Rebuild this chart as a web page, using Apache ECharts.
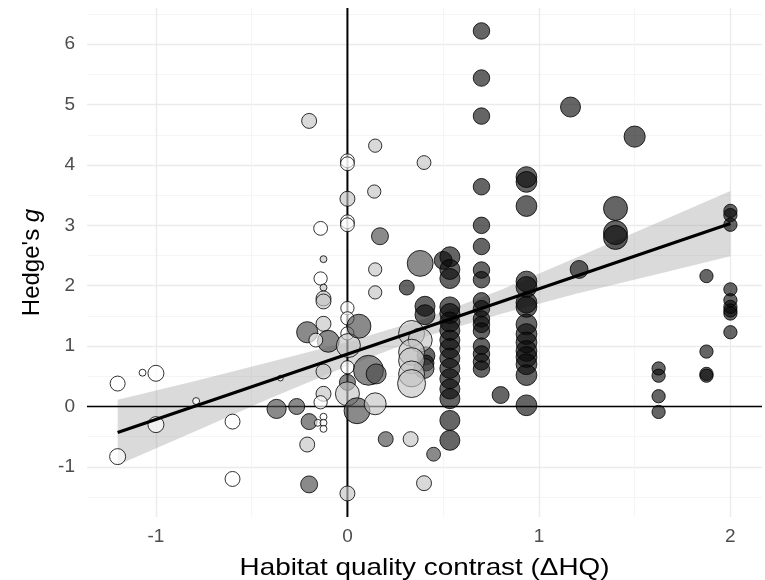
<!DOCTYPE html>
<html>
<head>
<meta charset="utf-8">
<script src="https://cdn.jsdelivr.net/npm/echarts@6/dist/echarts.min.js"></script>
<style>
  html, body { margin: 0; padding: 0; background: #ffffff; }
  #chart { width: 765px; height: 580px; }
</style>
</head>
<body>
<div id="chart"></div>
<script>
// Effect sizes (Hedge's g) against habitat quality contrast (ΔHQ).
// Parallel arrays: one entry per effect size.
const hqContrast = [
  -1.2, -1.2, -1.07, -1.0, -1.0, -0.79, -0.6, -0.6, -0.35, -0.37,
  -0.265, -0.2, -0.21, -0.2, -0.2, -0.21,
  -0.14, -0.125, -0.14, -0.125, -0.125, -0.125, -0.125, -0.10, -0.165, -0.125, -0.125, -0.14, -0.125, -0.155, -0.125, -0.125,
  0, 0, 0, 0, 0, 0, 0, 0, 0.005, 0, 0, 0, 0,
  0.06, 0.05, 0.11, 0.15, 0.145, 0.145, 0.14, 0.17, 0.145, 0.145, 0.2,
  0.31, 0.405, 0.405, 0.41, 0.41, 0.40, 0.33, 0.40, 0.38, 0.335, 0.38, 0.335, 0.335, 0.335, 0.335, 0.45, 0.40,
  0.5, 0.535, 0.535, 0.535, 0.535, 0.535, 0.535, 0.535, 0.535, 0.535, 0.535, 0.535, 0.535, 0.535, 0.535, 0.535, 0.535,
  0.70, 0.70, 0.70, 0.70, 0.70, 0.70, 0.70, 0.70, 0.70, 0.70, 0.70, 0.70, 0.70, 0.70, 0.70, 0.70, 0.70,
  0.80,
  0.935, 0.935, 0.935, 0.935, 0.935, 0.935, 0.935, 0.935, 0.935, 0.935, 0.935, 0.935, 0.935, 0.935, 0.935,
  1.165, 1.21, 1.40, 1.40, 1.40, 1.50,
  1.625, 1.625, 1.625, 1.625,
  1.875, 1.875, 1.875, 1.875,
  2.0, 2.0, 2.0, 2.0, 2.0, 2.0, 2.0, 2.0, 2.0
];
const hedgesG = [
  0.38, -0.83, 0.56, 0.55, -0.30, 0.09, -0.25, -1.20, 0.47, -0.04,
  0.00, -0.25, -0.63, -1.29, 4.73, 1.23,
  2.95, 2.44, 2.12, 1.97, 1.79, 1.74, 1.37, 1.08, 1.10, 0.58, 0.21, 0.07, -0.17, -0.27, -0.27, -0.37,
  4.07, 4.02, 3.44, 3.06, 3.01, 1.63, 1.46, 1.21, 1.01, 0.65, 0.40, 0.21, -1.44,
  1.33, -0.07, 0.60, 0.54, 0.045, 4.32, 3.56, 2.82, 2.27, 1.89, -0.54,
  1.97, 1.66, 1.52, 0.84, 0.72, 0.63, -0.54, 4.04, 2.37, 1.21, 1.10, 0.90, 0.76, 0.54, 0.38, -0.79, -1.27,
  2.42, 2.48, 2.27, 2.12, 1.65, 1.54, 1.40, 1.26, 1.10, 0.96, 0.80, 0.63, 0.46, 0.29, 0.13, -0.23, -0.56,
  6.22, 5.44, 4.81, 3.64, 3.00, 2.65, 2.26, 2.10, 1.75, 1.62, 1.45, 1.36, 1.25, 1.00, 0.87, 0.74, 0.62,
  0.19,
  3.80, 3.72, 3.32, 2.07, 1.98, 1.72, 1.65, 1.36, 1.20, 1.06, 0.92, 0.82, 0.70, 0.52, 0.02,
  4.96, 2.27, 3.28, 2.88, 2.80, 4.47,
  0.63, 0.51, 0.17, -0.09,
  2.16, 0.91, 0.54, 0.51,
  3.24, 3.17, 3.01, 1.94, 1.76, 1.65, 1.59, 1.54, 1.23
];
// Study weight (drives bubble area)
const studyWeight = [
  14, 16, 3, 16, 16, 3, 14, 14, 2, 23,
  16, 16, 14, 18, 14, 28,
  12, 3, 11, 3, 14, 14, 14, 30, 12, 14, 14, 11, 3, 3, 3, 3,
  12, 12, 14, 12, 12, 11, 11, 11, 36, 11, 16, 36, 14,
  36, 42, 56, 25, 30, 11, 11, 18, 11, 11, 14,
  14, 25, 25, 20, 16, 25, 14, 12, 42, 42, 36, 42, 42, 42, 49, 12, 14,
  20, 25, 25, 25, 25, 25, 25, 25, 25, 25, 25, 25, 25, 25, 25, 25, 25,
  17, 17, 17, 17, 17, 17, 17, 17, 17, 17, 17, 17, 17, 17, 17, 17, 17,
  18,
  27, 27, 27, 27, 27, 27, 27, 27, 27, 27, 27, 27, 27, 27, 27,
  25, 20, 36, 36, 36, 28,
  11, 11, 11, 11,
  11, 11, 11, 11,
  11, 11, 11, 11, 11, 11, 11, 11, 11
];
// Quality class of the focal habitat (0 = lowest ... 3 = highest)
const habitatClass = [
  0, 0, 0, 0, 0, 0, 0, 0, 0, 2,
  2, 2, 1, 2, 1, 2,
  0, 1, 0, 1, 1, 1, 1, 2, 0, 1, 1, 0, 0, 0, 0, 0,
  0, 0, 1, 0, 0, 0, 0, 0, 1, 0, 2, 1, 1,
  2, 2, 2, 2, 1, 1, 1, 2, 1, 1, 2,
  3, 3, 3, 3, 3, 2, 1, 1, 2, 1, 1, 1, 1, 1, 1, 2, 1,
  3, 3, 3, 3, 3, 3, 3, 3, 3, 3, 3, 3, 3, 3, 3, 3, 3,
  3, 3, 3, 3, 3, 3, 3, 3, 3, 3, 3, 3, 3, 3, 3, 3, 3,
  3,
  3, 3, 3, 3, 3, 3, 3, 3, 3, 3, 3, 3, 3, 3, 3,
  3, 3, 3, 3, 3, 3,
  3, 3, 3, 3,
  3, 3, 3, 3,
  3, 3, 3, 3, 3, 3, 3, 3, 3
];

// Linear fit with 95% confidence band
const fitX = [-1.2, 2.0];
const fitY = [-0.43, 3.03];
const bandX = [-1.2, -0.8, -0.4, 0, 0.4, 0.8, 1.2, 1.6, 2.0];
const bandLower = [-0.97, -0.42, 0.14, 0.67, 1.15, 1.53, 1.87, 2.18, 2.49];
const bandUpper = [0.11, 0.42, 0.74, 1.07, 1.45, 1.93, 2.47, 3.02, 3.57];

// Axis ticks
const xMajorTicks = [-1, 0, 1, 2];
const xMinorTicks = [-0.5, 0.5, 1.5];
const yMajorTicks = [-1, 0, 1, 2, 3, 4, 5, 6];
const yMinorTicks = [-1.5, -0.5, 0.5, 1.5, 2.5, 3.5, 4.5, 5.5, 6.5];

const X_TITLE = 'Habitat quality contrast (ΔHQ)';

const FONT = '"Liberation Sans", Arial, Helvetica, sans-serif';
const classFill = [
  'rgba(255,255,255,0.8)',
  'rgba(196,196,196,0.8)',
  'rgba(72,72,72,0.8)',
  'rgba(8,8,8,0.78)'
];

const points = hqContrast.map((x, i) => [x, hedgesG[i], studyWeight[i], habitatClass[i]]);
const bandPoints = bandX.map((x, i) => [x, bandLower[i], bandUpper[i]]);

const X_MIN = -1.36, X_MAX = 2.165;
const Y_MIN = -1.83, Y_MAX = 6.6;
const GRID = { left: 87, right: 3, top: 8, bottom: 63 };

function majorAxis(extra) {
  return Object.assign({
    type: 'value',
    axisLine: { show: false },
    splitLine: { show: true, lineStyle: { color: '#EBEBEB', width: 1.4 } }
  }, extra);
}
function minorAxis(extra) {
  return Object.assign({
    type: 'value',
    axisLine: { show: false },
    axisLabel: { show: false },
    splitLine: { show: true, lineStyle: { color: '#F2F2F2', width: 0.8 } }
  }, extra);
}

const el = document.getElementById('chart');
const chart = echarts.init(el, null, { renderer: 'canvas' });
const plotCenterX = GRID.left + (el.clientWidth - GRID.left - GRID.right) / 2;

chart.setOption({
  animation: false,
  backgroundColor: '#ffffff',
  grid: Object.assign({ containLabel: false }, GRID),
  xAxis: [
    majorAxis({
      min: X_MIN, max: X_MAX,
      axisTick: { show: false, customValues: xMajorTicks },
      axisLabel: { customValues: xMajorTicks, color: '#4D4D4D', fontSize: 19, fontFamily: FONT, margin: 10 }
    }),
    minorAxis({
      min: X_MIN, max: X_MAX, position: 'bottom',
      axisTick: { show: false, customValues: xMinorTicks }
    })
  ],
  yAxis: [
    majorAxis({
      min: Y_MIN, max: Y_MAX,
      axisTick: { show: false, customValues: yMajorTicks },
      axisLabel: { customValues: yMajorTicks, color: '#4D4D4D', fontSize: 19, fontFamily: FONT, margin: 12 },
      name: "Hedge's {i|g}",
      nameLocation: 'middle',
      nameGap: 43,
      nameTextStyle: {
        color: '#000000', fontSize: 24, fontFamily: FONT,
        rich: { i: { fontStyle: 'italic', fontSize: 24, color: '#000000', fontFamily: FONT } }
      }
    }),
    minorAxis({
      min: Y_MIN, max: Y_MAX, position: 'left',
      axisTick: { show: false, customValues: yMinorTicks }
    })
  ],
  graphic: [
    {
      // x-axis title, set slightly wide
      type: 'text',
      x: plotCenterX,
      y: 568,
      scaleX: 1.16,
      silent: true,
      style: {
        text: X_TITLE,
        font: '24px ' + FONT,
        fill: '#000000',
        textAlign: 'center',
        textVerticalAlign: 'middle'
      }
    }
  ],
  series: [
    {
      // confidence band of the linear fit
      type: 'custom',
      z: 1,
      silent: true,
      data: [0],
      renderItem: function (params, api) {
        const upper = bandPoints.map(p => api.coord([p[0], p[2]]));
        const lower = bandPoints.slice().reverse().map(p => api.coord([p[0], p[1]]));
        return {
          type: 'polygon',
          shape: { points: upper.concat(lower) },
          style: { fill: 'rgba(153,153,153,0.36)', stroke: null }
        };
      }
    },
    {
      // reference lines at ΔHQ = 0 and g = 0
      type: 'custom',
      z: 2,
      silent: true,
      data: [0],
      renderItem: function (params, api) {
        const cs = params.coordSys;
        const origin = api.coord([0, 0]);
        return {
          type: 'group',
          children: [
            { type: 'line', shape: { x1: origin[0], y1: cs.y, x2: origin[0], y2: cs.y + cs.height },
              style: { stroke: '#000000', lineWidth: 2 } },
            { type: 'line', shape: { x1: cs.x, y1: origin[1], x2: cs.x + cs.width, y2: origin[1] },
              style: { stroke: '#000000', lineWidth: 1.3 } }
          ]
        };
      }
    },
    {
      type: 'scatter',
      z: 3,
      silent: true,
      data: points,
      symbol: 'circle',
      symbolSize: function (v) { return 4 * Math.sqrt(v[2]); },
      itemStyle: {
        color: function (p) { return classFill[p.value[3]]; },
        borderColor: '#000000',
        borderWidth: 1
      },
      emphasis: { disabled: true }
    },
    {
      type: 'line',
      z: 4,
      silent: true,
      data: fitX.map((x, i) => [x, fitY[i]]),
      symbol: 'none',
      lineStyle: { color: '#000000', width: 3.2 },
      emphasis: { disabled: true }
    }
  ]
});
</script>
</body>
</html>
